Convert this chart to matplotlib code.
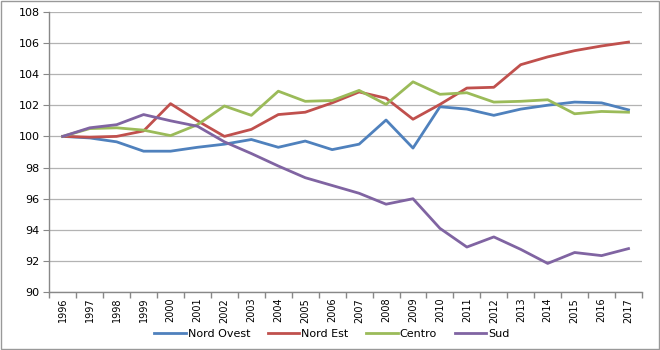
import numpy as np
import matplotlib.pyplot as plt
from matplotlib.ticker import FixedLocator

# --- data ---
years = [str(y) for y in range(1996, 2018)]

nord_ovest = [100.0, 99.9, 99.65, 99.05, 99.05, 99.3, 99.5, 99.8, 99.3, 99.7, 99.15,
              99.5, 101.05, 99.25, 101.9, 101.75, 101.35, 101.75, 102.0, 102.2, 102.15, 101.7]
nord_est = [100.0, 99.95, 100.0, 100.35, 102.1, 101.0, 100.0, 100.45, 101.4, 101.55, 102.15,
            102.85, 102.45, 101.1, 102.05, 103.1, 103.15, 104.6, 105.1, 105.5, 105.8, 106.05]
centro = [100.0, 100.5, 100.55, 100.4, 100.05, 100.75, 101.95, 101.35, 102.9, 102.25, 102.3,
          102.95, 102.05, 103.5, 102.7, 102.8, 102.2, 102.25, 102.35, 101.45, 101.6, 101.55]
sud = [100.0, 100.55, 100.75, 101.4, 101.0, 100.65, 99.65, 98.9, 98.1, 97.35, 96.85,
       96.35, 95.65, 96.0, 94.1, 92.9, 93.55, 92.75, 91.85, 92.55, 92.35, 92.8]

series = [("Nord Ovest", nord_ovest, "#4F81BD"),
          ("Nord Est", nord_est, "#C0504D"),
          ("Centro", centro, "#9BBB59"),
          ("Sud", sud, "#8064A2")]

plt.rcParams['font.family'] = ['Verdana', 'DejaVu Sans']

fig = plt.figure(figsize=(6.6, 3.5), dpi=100)
ax = fig.add_axes([0.0747, 0.165, 0.898, 0.8016])

x = np.arange(len(years))
for name, vals, col in series:
    ax.plot(x, vals, color=col, lw=2.0, label=name)

ax.set_xlim(-0.5, len(years) - 0.5)
ax.set_ylim(90, 108)
ax.set_yticks(np.arange(90, 109, 2))
ax.set_xticks(x)
ax.set_xticklabels(years, rotation=90, fontsize=7)
ax.tick_params(axis='x', which='major', length=0, pad=4)
ax.xaxis.set_minor_locator(FixedLocator(np.arange(-0.5, len(years), 1)))
ax.tick_params(axis='x', which='minor', length=4, color='#888888', width=1)
ax.tick_params(axis='y', length=4, color='#888888', labelsize=8, pad=3)

ax.grid(axis='y', color='#B3B3B3', lw=0.9)
ax.set_axisbelow(True)
for s in ['top', 'right']:
    ax.spines[s].set_visible(False)
for s in ['left', 'bottom']:
    ax.spines[s].set_color('#888888')
    ax.spines[s].set_linewidth(1)

fig.legend(loc='center', bbox_to_anchor=(0.503, 0.046), ncol=4, frameon=False,
           fontsize=8, handlelength=2.8, columnspacing=1.6, handletextpad=0.2)

# thin grey border round the whole picture
fig.patches.append(plt.Rectangle((0.002, 0.003), 0.996, 0.994, transform=fig.transFigure,
                                 fill=False, edgecolor='#999999', lw=1))

fig.savefig("out.png", dpi=100)
